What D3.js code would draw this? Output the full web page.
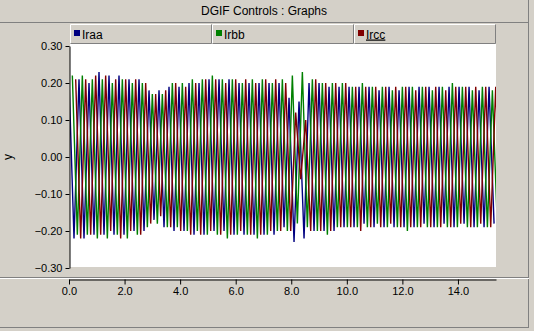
<!DOCTYPE html>
<meta charset="utf-8">
<style>
  body { margin: 0; background: #d4d0c8; }
  svg { display: block; font-family: "Liberation Sans", Arial, sans-serif; }
</style>
<body></body>
<script src="https://cdn.jsdelivr.net/npm/d3@7"></script>
<script>
  // half-cycle extremes (magnitudes), sign alternates peak/trough
  const halfPeriod = 0.18
  const seriesNames = ["Iraa", "Irbb", "Ircc"]
  const seriesColors = ["#000080", "#008000", "#800000"]
  const seriesOffsets = [0, 0.12, 0.24]

  const iraa = [
    0.21,0.22,0.21,0.22,0.20,0.21,0.23,0.21,0.22,0.21,
    0.22,0.21,0.21,0.20,0.21,0.20,0.18,0.17,0.18,0.19,
    0.19,0.20,0.19,0.20,0.20,0.21,0.20,0.21,0.21,0.20,
    0.21,0.20,0.21,0.21,0.20,0.21,0.20,0.21,0.20,0.21,
    0.20,0.21,0.20,0.19,0.16,0.23,0.15,0.22,0.20,0.20,
    0.20,0.20,0.19,0.20,0.19,0.19,0.19,0.19,0.19,0.18,
    0.19,0.19,0.18,0.19,0.19,0.19,0.18,0.19,0.19,0.19,
    0.19,0.18,0.19,0.19,0.19,0.18,0.19,0.19,0.19,0.18,
    0.19,0.19,0.18,0.19,0.19,0.18
  ]
  const irbb = [
    0.22,0.21,0.22,0.21,0.21,0.22,0.21,0.22,0.20,0.21,
    0.21,0.22,0.20,0.21,0.20,0.19,0.17,0.18,0.17,0.19,
    0.20,0.19,0.20,0.20,0.21,0.20,0.21,0.21,0.22,0.21,
    0.21,0.22,0.21,0.21,0.20,0.21,0.21,0.22,0.21,0.21,
    0.20,0.20,0.21,0.20,0.22,0.18,0.23,0.19,0.21,0.20,
    0.20,0.21,0.20,0.19,0.20,0.19,0.19,0.19,0.20,0.19,
    0.19,0.18,0.19,0.19,0.18,0.19,0.19,0.20,0.19,0.19,
    0.19,0.19,0.18,0.19,0.19,0.19,0.20,0.19,0.19,0.19,
    0.18,0.19,0.19,0.19,0.18,0.19
  ]
  const ircc = [
    0.21,0.22,0.21,0.21,0.22,0.21,0.22,0.20,0.21,0.22,
    0.21,0.20,0.21,0.21,0.20,0.18,0.17,0.16,0.18,0.19,
    0.20,0.20,0.19,0.21,0.20,0.21,0.21,0.20,0.21,0.21,
    0.20,0.21,0.21,0.20,0.21,0.21,0.20,0.21,0.21,0.20,
    0.21,0.20,0.20,0.20,0.12,0.06,0.10,0.20,0.21,0.20,
    0.20,0.20,0.20,0.19,0.20,0.19,0.19,0.20,0.19,0.19,
    0.19,0.19,0.19,0.18,0.19,0.19,0.19,0.19,0.18,0.19,
    0.19,0.19,0.19,0.19,0.18,0.19,0.19,0.18,0.19,0.19,
    0.19,0.18,0.19,0.19,0.19,0.18
  ]
  const seriesValues = [iraa, irbb, ircc]

  const xTicks = [0, 2, 4, 6, 8, 10, 12, 14]
  const yTicks = [-0.3, -0.2, -0.1, 0, 0.1, 0.2, 0.3]

  const width = 534, height = 331
  const plot = { left: 70, right: 496, top: 44, bottom: 267 }

  const svg = d3.select("body").append("svg")
    .attr("width", width)
    .attr("height", height)

  svg.append("rect").attr("width", width).attr("height", height).attr("fill", "#d4d0c8")

  // title bar
  svg.append("text")
    .attr("x", 264).attr("y", 15)
    .attr("text-anchor", "middle")
    .attr("font-size", 12)
    .text("DGIF Controls : Graphs")
  svg.append("line").attr("x1", 0).attr("x2", 529).attr("y1", 22.5).attr("y2", 22.5).attr("stroke", "#808080")
  svg.append("line").attr("x1", 528.5).attr("x2", 528.5).attr("y1", 0).attr("y2", 328).attr("stroke", "#808080")
  svg.append("line").attr("x1", 0).attr("x2", 529).attr("y1", 327.5).attr("y2", 327.5).attr("stroke", "#808080")

  // legend cells
  const cellW = (plot.right - plot.left) / 3
  const legend = svg.append("g")
  seriesNames.forEach((name, i) => {
    const x0 = plot.left + i * cellW
    const g = legend.append("g").attr("transform", `translate(${x0}, 24)`)
    g.append("rect").attr("width", cellW).attr("height", 20).attr("fill", "#d4d0c8")
    g.append("path").attr("d", `M0.5,19.5V0.5H${cellW - 0.5}`).attr("fill", "none").attr("stroke", "#fff")
    g.append("path").attr("d", `M${cellW - 0.5},0.5V19.5H0.5`).attr("fill", "none").attr("stroke", "#808080")
    g.append("rect").attr("x", 4).attr("y", 6).attr("width", 6).attr("height", 6).attr("fill", seriesColors[i])
    g.append("text").attr("x", 12).attr("y", 14.5).attr("font-size", 12)
      .attr("text-decoration", i === 2 ? "underline" : null)
      .text(name)
  })

  // plot area
  svg.append("rect")
    .attr("x", plot.left).attr("y", plot.top)
    .attr("width", plot.right - plot.left).attr("height", plot.bottom - plot.top)
    .attr("fill", "#fff")

  const xScale = d3.scaleLinear().domain([0, 15.37]).range([69, 496])
  const yScale = d3.scaleLinear().domain([-0.3, 0.3]).range([268, 46])

  svg.append("clipPath").attr("id", "clip")
    .append("rect")
    .attr("x", plot.left).attr("y", plot.top)
    .attr("width", plot.right - plot.left).attr("height", plot.bottom - plot.top)

  const line = d3.line()
    .x(d => xScale(d.t))
    .y(d => yScale(d.v))

  const traces = svg.append("g").attr("clip-path", "url(#clip)")
  seriesValues.forEach((vals, i) => {
    const pts = vals.map((a, k) => ({ t: seriesOffsets[i] + k * halfPeriod, v: k % 2 ? -a : a }))
    traces.append("path")
      .datum(pts)
      .attr("fill", "none")
      .attr("stroke", seriesColors[i])
      .attr("stroke-width", 1.4)
      .attr("d", line)
  })

  // y axis
  const yAxis = svg.append("g")
    .attr("transform", "translate(69.5,0)")
    .call(d3.axisLeft(yScale).tickValues(yTicks).tickFormat(d3.format(".2f")).tickSize(4).tickSizeOuter(0))
  yAxis.select(".domain").attr("stroke", "#000")
  yAxis.selectAll("text").attr("font-size", 11).attr("fill", "#000")
    .attr("font-family", "Liberation Sans, Arial, sans-serif")

  svg.append("text")
    .attr("transform", "translate(12,157) rotate(-90)")
    .attr("text-anchor", "middle")
    .attr("font-size", 12)
    .text("y")

  // separator above x axis
  svg.append("line").attr("x1", 0).attr("x2", 529).attr("y1", 277.5).attr("y2", 277.5).attr("stroke", "#808080")
  svg.append("line").attr("x1", 0).attr("x2", 529).attr("y1", 278.5).attr("y2", 278.5).attr("stroke", "#fff")

  // x axis
  const xAxis = svg.append("g")
    .attr("transform", "translate(0,279.5)")
    .call(d3.axisBottom(xScale).tickValues(xTicks).tickFormat(d3.format(".1f")).tickSize(5).tickSizeOuter(0))
  xAxis.selectAll("text").attr("font-size", 11).attr("fill", "#000")
    .attr("font-family", "Liberation Sans, Arial, sans-serif")
</script>
